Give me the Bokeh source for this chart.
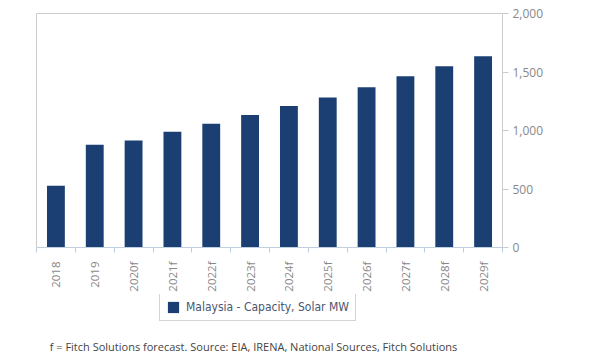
from math import pi
from bokeh.plotting import figure
from bokeh.layouts import column
from bokeh.models import (ColumnDataSource, LinearAxis, FixedTicker, Range1d,
                          Legend, LegendItem, Label, NumeralTickFormatter)
from bokeh.embed import file_html
from bokeh.resources import INLINE

years = ["2018", "2019", "2020f", "2021f", "2022f", "2023f", "2024f",
         "2025f", "2026f", "2027f", "2028f", "2029f"]
capacity = [527, 878, 915, 989, 1058, 1132, 1209, 1283, 1369, 1463, 1549, 1634]
series_name = "Malaysia - Capacity, Solar MW"
footnote = "f = Fitch Solutions forecast. Source: EIA, IRENA, National Sources, Fitch Solutions"
y_ticks = [0, 500, 1000, 1500, 2000]

idx = list(range(len(years)))
src = ColumnDataSource(dict(x=idx, y=capacity, label=years))

FONT = "Open Sans"
BAR = "#1b3f73"
GRAY = "#888888"

W, H1 = 592, 294
FL = 36  # frame left
p = figure(width=W, height=H1, output_backend="svg", toolbar_location=None,
           x_range=Range1d(-0.5, len(years) - 0.5), y_range=Range1d(0, 2000),
           x_axis_location=None, y_axis_location=None,
           min_border_left=FL, min_border_top=13, min_border_right=W - 502,
           min_border_bottom=H1 - 247)
p.xgrid.visible = False
p.ygrid.visible = False
p.outline_line_color = "#cccccc"
p.background_fill_color = "white"
p.border_fill_color = "white"

r = p.vbar(x="x", top="y", width=0.46, source=src, fill_color=BAR, line_color=None)

# x axis: labels at centers, ticks at category boundaries
xaxis = LinearAxis(ticker=FixedTicker(ticks=idx, minor_ticks=[i - 0.5 for i in range(len(years) + 1)]))
xaxis.major_label_overrides = {i: y for i, y in enumerate(years)}
xaxis.major_label_orientation = pi / 2
xaxis.major_tick_out = 0
xaxis.major_tick_in = 0
xaxis.minor_tick_out = 5
xaxis.minor_tick_in = 0
xaxis.minor_tick_line_color = "#c0cfe0"
xaxis.axis_line_color = "#c0cfe0"
xaxis.major_label_text_font = FONT
xaxis.major_label_text_font_size = "11.5px"
xaxis.major_label_text_color = GRAY
xaxis.major_label_standoff = 9
p.add_layout(xaxis, "below")

yaxis = LinearAxis(ticker=FixedTicker(ticks=y_ticks, minor_ticks=[]))
yaxis.formatter = NumeralTickFormatter(format="0,0")
yaxis.axis_line_color = "#cccccc"
yaxis.major_tick_line_color = "#cccccc"
yaxis.major_tick_out = 6
yaxis.major_tick_in = 0
yaxis.minor_tick_line_color = None
yaxis.major_label_text_font = FONT
yaxis.major_label_text_font_size = "12px"
yaxis.major_label_text_color = GRAY
yaxis.major_label_standoff = 4
p.add_layout(yaxis, "right")

# second figure: legend and footnote (frame is aligned with the chart's frame)
H2 = 64
p2 = figure(width=W, height=H2, output_backend="svg", toolbar_location=None,
            x_range=Range1d(0, 1), y_range=Range1d(0, 1),
            x_axis_location=None, y_axis_location=None,
            min_border_left=FL, min_border_right=W - 502, min_border_top=0, min_border_bottom=0)
p2.xgrid.visible = False
p2.ygrid.visible = False
p2.outline_line_color = None
swatch = p2.vbar(x=[float("nan")], top=[float("nan")], width=0.5, fill_color=BAR, line_color=None)

legend = Legend(items=[LegendItem(label=series_name, renderers=[swatch])],
                orientation="horizontal", location=(159 - FL, H2 - 27),
                label_text_font="DejaVu Sans Condensed", label_text_font_size="12px",
                label_text_color="#4a5670", border_line_color="#aaaaaa",
                border_line_width=1, padding=6, margin=0, glyph_width=14, glyph_height=14,
                label_standoff=6, label_height=14)
p2.add_layout(legend, "center")

note = Label(x=253 - FL, y=H2 - (346 - H1), x_units="screen", y_units="screen", text=footnote,
             text_align="center", text_baseline="middle", text_font=FONT,
             text_font_size="11px", text_color="#444444")
p2.add_layout(note)

open("out.html", "w").write(file_html(column(p, p2, spacing=0), INLINE))
